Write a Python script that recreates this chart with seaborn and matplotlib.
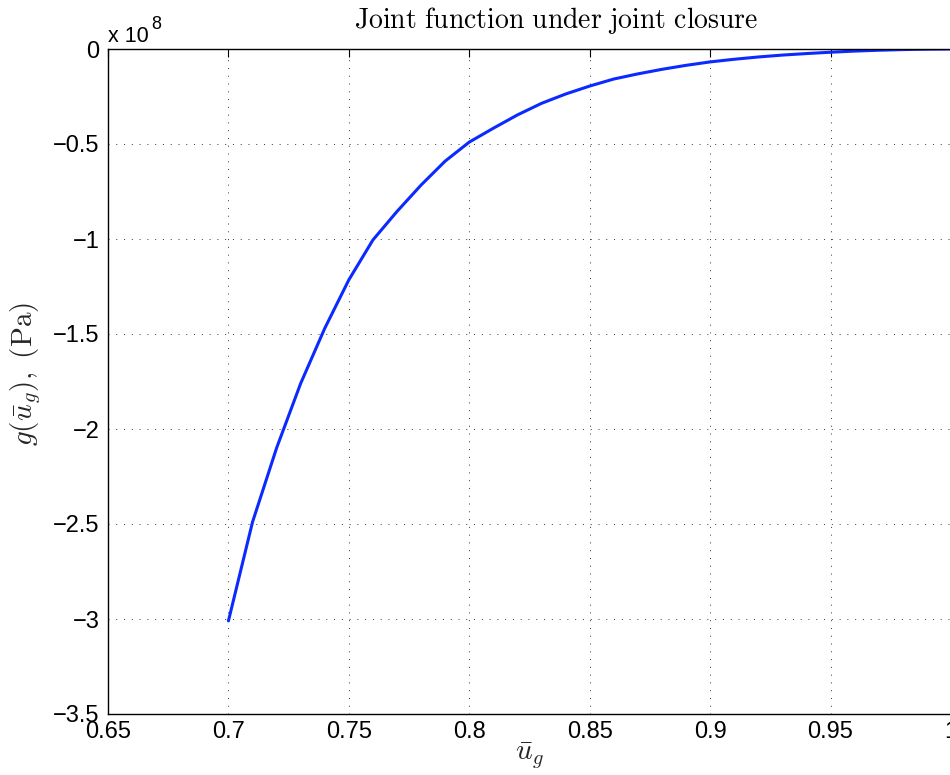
import numpy as np
import pandas as pd
import matplotlib
matplotlib.use("Agg")
import matplotlib.pyplot as plt
import seaborn as sns
from matplotlib.ticker import FuncFormatter

# data
u_g = [0.70, 0.71, 0.72, 0.73, 0.74, 0.75, 0.76, 0.77, 0.78, 0.79, 0.80,
       0.81, 0.82, 0.83, 0.84, 0.85, 0.86, 0.87, 0.88, 0.89, 0.90,
       0.91, 0.92, 0.93, 0.94, 0.95, 0.96, 0.97, 0.98, 0.99, 1.00]
g_pa = [-3.01e8, -2.49e8, -2.10e8, -1.76e8, -1.47e8, -1.215e8, -1.005e8,
        -0.855e8, -0.716e8, -0.590e8, -0.490e8, -0.417e8, -0.347e8,
        -0.286e8, -0.237e8, -0.195e8, -0.158e8, -0.131e8, -0.107e8,
        -0.086e8, -0.068e8, -0.054e8, -0.042e8, -0.032e8, -0.024e8,
        -0.017e8, -0.011e8, -0.0065e8, -0.003e8, -0.001e8, 0.0]
x_ticks = [0.65, 0.70, 0.75, 0.80, 0.85, 0.90, 0.95, 1.00]
x_tick_labels = ["0.65", "0.7", "0.75", "0.8", "0.85", "0.9", "0.95", "1"]
y_ticks = [-3.5e8, -3.0e8, -2.5e8, -2.0e8, -1.5e8, -1.0e8, -0.5e8, 0.0]

sns.set_theme(style="white")
plt.rcParams["font.family"] = ["Liberation Sans", "DejaVu Sans"]
plt.rcParams["mathtext.fontset"] = "cm"
plt.rcParams["axes.unicode_minus"] = True

df = pd.DataFrame({"u": u_g, "g": g_pa})

fig = plt.figure(figsize=(9.5, 7.75), dpi=100)
ax = fig.add_axes([108 / 950, 1 - 714 / 775, 842 / 950 + 0.001, 665 / 775])

sns.lineplot(data=df, x="u", y="g", ax=ax, color="#0a2aff", linewidth=2.2)

ax.set_xlim(0.65, 1.0)
ax.set_ylim(-3.5e8, 0)
ax.set_xticks(x_ticks)
ax.set_xticklabels(x_tick_labels)
ax.set_yticks(y_ticks)

def yfmt(v, pos):
    s = f"{v / 1e8:g}"
    return s.replace("-", "\u2212")
ax.yaxis.set_major_formatter(FuncFormatter(yfmt))

ax.grid(True, linestyle=(0, (1, 7)), color="0.2", linewidth=0.7)
for side in ["left", "bottom", "top"]:
    ax.spines[side].set_visible(True)
    ax.spines[side].set_color("black")
    ax.spines[side].set_linewidth(1.0)
ax.spines["right"].set_visible(False)

ax.tick_params(axis="both", which="major", direction="in", length=6, width=0.8,
               colors="black", labelsize=17, top=True, right=False, pad=6)
ax.tick_params(axis="x", pad=5)
for t in ax.get_xticklines() + ax.get_yticklines():
    t.set_color("0.35")

ax.set_xlabel(r"$\bar{u}_g$", fontsize=21)
ax.xaxis.set_label_coords(0.5, (714 - 741) / 665)
ax.set_ylabel(r"$g(\bar{u}_g),\ \mathrm{(Pa)}$", fontsize=21)
ax.yaxis.set_label_coords((43 - 108) / 842, (714 - 374) / 665)

fig.text(556 / 950, 1 - 28 / 775, r"$\mathrm{Joint\ function\ under\ joint\ closure}$",
         fontsize=20, ha="center", va="baseline", color="black")

fig.text(108 / 950, 1 - 42 / 775, "x 10", fontsize=15.5, ha="left", va="baseline",
         color="black")
fig.text(151 / 950, 1 - 29 / 775, "8", fontsize=13, ha="left", va="baseline",
         color="black")

fig.savefig("out.png", dpi=100, facecolor="white")
